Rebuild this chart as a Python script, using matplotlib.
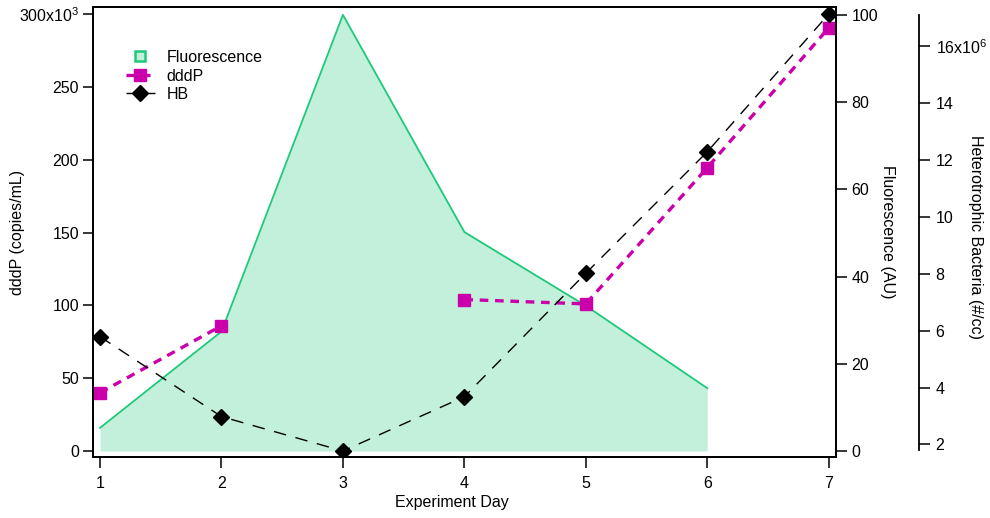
import numpy as np
import matplotlib
matplotlib.use("Agg")
from matplotlib import pyplot as plt
from matplotlib.lines import Line2D

plt.rcParams["font.family"] = ["Liberation Sans", "DejaVu Sans"]
plt.rcParams["mathtext.fontset"] = "custom"
plt.rcParams["mathtext.rm"] = "Liberation Sans"
plt.rcParams["mathtext.it"] = "Liberation Sans"
plt.rcParams["mathtext.default"] = "regular"

# data
days = [1, 2, 3, 4, 5, 6, 7]
fluor_days = [1, 2, 3, 4, 5, 6]
fluorescence = [5.3, 27.4, 100, 50.2, 33.3, 14.4]  # AU
dddp = [40, 86, np.nan, 104, 101, 194.5, 290.5]  # x10^3 copies/mL
hb = [5.79, 2.98, 1.77, 3.68, 8.02, 12.29, 17.13]  # x10^6 #/cc

dddp_ticks = [0, 50, 100, 150, 200, 250, 300]
dddp_ticklabels = ["0", "50", "100", "150", "200", "250", r"300x10$^{3}$"]
fluor_ticks = [0, 20, 40, 60, 80, 100]
hb_ticks = [2, 4, 6, 8, 10, 12, 14, 16]
hb_ticklabels = ["2", "4", "6", "8", "10", "12", "14", r"16x10$^{6}$"]

FILL = "#c2f0da"
GREEN = "#1dc97a"
MAGENTA = "#cc00aa"
FS = 11.5

fig = plt.figure(figsize=(9.9, 5.18), dpi=100)
W, H = 990, 518
left, right, top, bottom = 93, 836, 7, 457
ax = fig.add_axes([left / W, 1 - bottom / H, (right - left) / W, (bottom - top) / H])
ax_f = ax.twinx()
ax_hb = ax.twinx()

# stacking: fluorescence fill at the back, then dddP, then HB
ax_f.set_zorder(0)
ax.set_zorder(1)
ax_hb.set_zorder(2)
ax.patch.set_visible(False)
ax_hb.patch.set_visible(False)

# fluorescence
ax_f.fill_between(fluor_days, 0, fluorescence, color=FILL, lw=0)
ax_f.plot(fluor_days, fluorescence, color=GREEN, lw=1.3)
ax_f.set_ylim(-1.38, 101.8)
ax_f.set_yticks(fluor_ticks)

# dddP
ax.plot(days, dddp, color=MAGENTA, lw=2.4, ls=(0, (2.6, 2.0)),
        marker="s", ms=8.5, mec=MAGENTA, mfc=MAGENTA)
ax.set_ylim(-4.1, 304.8)
ax.set_yticks(dddp_ticks)
ax.set_yticklabels(dddp_ticklabels)
ax.set_xlim(0.942, 7.06)
ax.set_xticks(days)

# heterotrophic bacteria
ax_hb.plot(days, hb, color="black", lw=1.0, ls=(0, (9, 7)),
           marker="D", ms=8, mec="black", mfc="black")
ax_hb.set_ylim(1.56, 17.38)
ax_hb.spines["right"].set_position(("axes", 1.1117))
ax_hb.spines["right"].set_bounds(1.8, 17.1)
for s in ["top", "left", "bottom"]:
    ax_hb.spines[s].set_visible(False)
ax_hb.set_yticks(hb_ticks)
ax_hb.set_yticklabels(hb_ticklabels)

for a in (ax, ax_f, ax_hb):
    for s in a.spines.values():
        s.set_linewidth(1.3)
ax.tick_params(axis="y", direction="out", length=7, width=1.1, pad=3, labelsize=FS)
ax.tick_params(axis="x", direction="out", length=8, width=1.1, pad=6, labelsize=FS)
ax_f.tick_params(axis="y", direction="out", length=8, width=1.1, pad=3, labelsize=FS)
ax_hb.tick_params(axis="y", direction="out", length=8, width=1.1, pad=4, labelsize=FS)

# axis titles
fig.text(18 / W, 1 - 232 / H, "dddP (copies/mL)", rotation=90,
         ha="center", va="center", fontsize=FS)
fig.text(452 / W, 1 - 502 / H, "Experiment Day", ha="center", va="center", fontsize=FS)
fig.text(888 / W, 1 - 232 / H, "Fluorescence (AU)", rotation=270,
         ha="center", va="center", fontsize=FS)
fig.text(975 / W, 1 - 237 / H, "Heterotrophic Bacteria (#/cc)", rotation=270,
         ha="center", va="center", fontsize=FS)

# legend
handles = [
    Line2D([], [], ls="none", marker="s", ms=7, mfc=FILL, mec=GREEN, mew=1.8),
    Line2D([], [], color=MAGENTA, lw=2.4, ls=(0, (2.6, 2.0)), marker="s", ms=8.5),
    Line2D([], [], color="black", lw=1.0, ls=(0, (9, 7)), marker="D", ms=8),
]
leg = ax_hb.legend(handles, ["Fluorescence", "dddP", "HB"], loc="upper left",
                   bbox_to_anchor=((126 - left) / (right - left), 1 - (50 - top) / (bottom - top)),
                   frameon=False, fontsize=FS, handlelength=1.8, handletextpad=0.75,
                   labelspacing=0.22, borderpad=0, borderaxespad=0, numpoints=1)

fig.savefig("out.png", dpi=100)
